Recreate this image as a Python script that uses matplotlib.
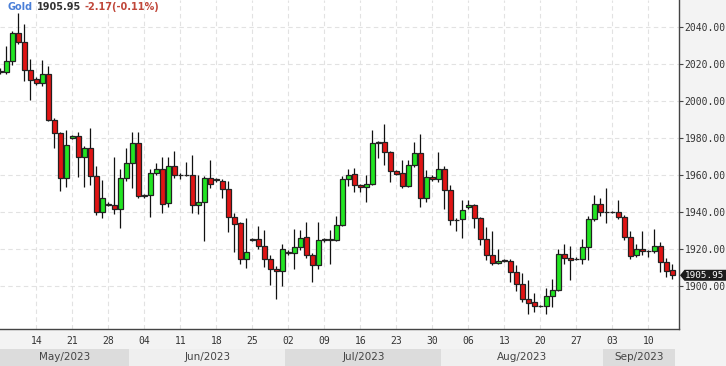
import matplotlib
matplotlib.use("Agg")
import matplotlib.pyplot as plt
import matplotlib.transforms as mtransforms
from matplotlib.patches import Rectangle, Polygon
import numpy as np
import pandas as pd

# ---- data (daily bars, Sun-Fri sessions) ----
start_date = "2023-05-07"
end_date = "2023-09-14"
opens = [2016, 2016, 2022, 2037, 2032, 2017, 2012, 2010, 2015, 1990,
         1982.7, 1958.4, 1980, 1981, 1969.7, 1975, 1959.8, 1940.3, 1944.5, 1943.9,
         1941.6, 1958.4, 1966.5, 1977.3, 1949, 1949.4, 1961.1, 1963.2, 1944.9, 1965.2,
         1960.2, 1960.2, 1960.2, 1944, 1945.4, 1958.4, 1957.5, 1957.1, 1952.4, 1937.3,
         1934, 1914.6, 1925.4, 1925.4, 1922, 1915, 1909.6, 1908.3, 1918.7, 1917.8,
         1921.5, 1926.5, 1916.8, 1911.4, 1925, 1925, 1925, 1933, 1957.8, 1960.5,
         1955, 1953.5, 1955.1, 1977.3, 1977.8, 1972.4, 1962.5, 1961.4, 1954.4, 1965.6,
         1971.9, 1947.6, 1959.3, 1958, 1963.6, 1951.9, 1936, 1936.2, 1942.6, 1943.8,
         1936.8, 1925.4, 1916.8, 1912.5, 1913.7, 1913.7, 1907.6, 1901.2, 1893.2, 1891.4,
         1889.4, 1889.6, 1894.6, 1898.2, 1917.7, 1915.5, 1914.5, 1914.6, 1921.5, 1936.3,
         1944.5, 1940, 1940.3, 1940.3, 1937.3, 1926.5, 1916.9, 1920, 1919, 1918.9,
         1921.8, 1913, 1909]
highs = [2018, 2030, 2038, 2048, 2042, 2023, 2013, 2022.3, 2019, 1991,
         1983.5, 1984.5, 1982, 1983.5, 1976, 1985.7, 1965.2, 1957.5, 1945.5, 1970,
         1963.4, 1974.9, 1983.2, 1983.6, 1950, 1963.6, 1966.5, 1970, 1970, 1973.1,
         1961, 1967, 1971, 1960, 1959.5, 1968.3, 1958.5, 1958, 1956.9, 1939.5,
         1935, 1936.8, 1926, 1932.6, 1930.4, 1917, 1911, 1922.7, 1919.5, 1930.8,
         1930.4, 1934.8, 1918, 1934.8, 1926, 1930.4, 1938, 1959.6, 1963.6, 1964,
         1955.5, 1960.2, 1984.5, 1978.5, 1987.6, 1973, 1963, 1968.3, 1968.3, 1978.1,
         1982.1, 1963, 1960, 1972.4, 1965, 1954.6, 1937, 1946.5, 1946.5, 1944.5,
         1937.5, 1932.2, 1930, 1920.4, 1914.5, 1915, 1911.3, 1907, 1903.4, 1896.4,
         1890, 1898.8, 1904.2, 1920, 1923, 1922, 1916, 1925.8, 1937.8, 1949.4,
         1947.6, 1953, 1940.5, 1946.5, 1938.5, 1930, 1923, 1930, 1919.8, 1930.8,
         1924, 1915.5, 1912.3]
lows = [2015, 2014.7, 2019.6, 2031, 2011, 2000.7, 2009, 2008.5, 1989.5, 1975,
        1951.7, 1953.8, 1979.5, 1959.3, 1953.8, 1955, 1938.5, 1936.8, 1943.5, 1939,
        1931.7, 1957, 1953.3, 1947.9, 1948, 1937.6, 1960, 1939.8, 1943, 1958.5,
        1958, 1959.5, 1939.8, 1939.3, 1924.4, 1953.3, 1956.5, 1947.6, 1929.5, 1918.7,
        1912, 1910, 1924.5, 1920, 1910.5, 1900.5, 1893, 1900, 1917, 1909.6,
        1919.5, 1915.5, 1902.3, 1909.6, 1924, 1912.3, 1924.5, 1932.5, 1954, 1951.1,
        1951, 1945.7, 1954.5, 1969.5, 1965.6, 1956.5, 1960, 1953, 1953.5, 1964.5,
        1943.1, 1945.7, 1957, 1956.5, 1941.6, 1933, 1930, 1926, 1942, 1931.4,
        1922.2, 1914, 1911.3, 1912, 1913, 1902.3, 1897.6, 1891.7, 1885, 1886.2,
        1889, 1884.8, 1888.8, 1897.5, 1912, 1903.6, 1914, 1912.3, 1914, 1935.5,
        1937.8, 1934.4, 1939.5, 1936.5, 1925, 1915, 1916, 1917, 1916, 1918,
        1907.7, 1905.2, 1904.1]
closes = [2016.5, 2022, 2037, 2032, 2017, 2011.5, 2010, 2014.8, 1990, 1982.7,
          1958.4, 1976.4, 1981.2, 1969.7, 1974.9, 1959.8, 1940.3, 1947.6, 1944, 1941.6,
          1958.4, 1966.5, 1977.3, 1948.8, 1949.5, 1961.1, 1963.2, 1944.3, 1965.2, 1960.2,
          1960, 1960.0, 1944, 1945.4, 1958.4, 1955.1, 1957.8, 1952.4, 1937.3, 1933.5,
          1914.6, 1918.7, 1925.2, 1921.8, 1915, 1909.6, 1908.3, 1920, 1917.8, 1921.5,
          1926, 1916.8, 1911.4, 1925, 1925.4, 1925.5, 1933, 1957.8, 1960.2, 1954.7,
          1953.5, 1955.1, 1977.3, 1978, 1972.4, 1962.5, 1960.7, 1954.4, 1965.6, 1971.9,
          1947.6, 1958.9, 1958, 1963.6, 1951.9, 1936, 1935.8, 1941.4, 1943.8, 1936.8,
          1925.4, 1916.8, 1912.5, 1913.7, 1914, 1907.6, 1901.2, 1893.2, 1890.8, 1889.4,
          1889.6, 1894.6, 1898.2, 1917.7, 1915.5, 1914, 1915, 1921.5, 1936.3, 1944.5,
          1940, 1940.3, 1940, 1937.3, 1926.5, 1916.6, 1920, 1918.9, 1919.3, 1921.8,
          1913, 1908.12, 1905.95]
yticks = [1900, 1920, 1940, 1960, 1980, 2000, 2020, 2040]
symbol = "Gold"
change = -2.17
change_pct = -0.11

dates = pd.bdate_range(start_date, end_date, freq="C", weekmask="Sun Mon Tue Wed Thu Fri")
n = len(dates)
x = np.arange(n)
o = np.array(opens); h = np.array(highs); l = np.array(lows); c = np.array(closes)

W, H = 726, 366
fig = plt.figure(figsize=(W / 100, H / 100), dpi=100)
fig.patch.set_facecolor("#f3f3f3")
ax_left, ax_right, ax_bottom, ax_top = 0, 679, 329, 0
ax = fig.add_axes([ax_left / W, (H - ax_bottom) / H, (ax_right - ax_left) / W, (ax_bottom - ax_top) / H])
ax.set_facecolor("white")

green = "#22e522"
red = "#e01414"
edge = "#222222"
bw = 0.86
for xi, oi, hi, li, ci in zip(x, o, h, l, c):
    ax.vlines(xi, li, hi, color="#111111", linewidth=0.9, zorder=2)
    col = green if ci >= oi else red
    bottom = min(oi, ci)
    height = max(abs(ci - oi), 0.05)
    ax.add_patch(Rectangle((xi - bw / 2, bottom), bw, height, facecolor=col,
                           edgecolor=edge, linewidth=0.9, zorder=3))

# axis ranges
XMIN, XMAX = -0.05, 113.1
ax.set_xlim(XMIN, XMAX)
ax.set_ylim(1876.9, 2054.8)

# x ticks on Sundays
sun_idx = [i for i, d in enumerate(dates) if d.dayofweek == 6 and i > 0]
ax.set_xticks(sun_idx)
ax.set_xticklabels([dates[i].strftime("%d") for i in sun_idx],
                   family="DejaVu Sans Mono", fontsize=7, color="#333333")
ax.tick_params(axis="x", length=0, pad=5)

ax.yaxis.tick_right()
ax.set_yticks(yticks)
ax.set_yticklabels([f"{v:.2f}" for v in yticks], family="DejaVu Sans Mono",
                   fontsize=7, color="#333333")
ax.tick_params(axis="y", length=3, width=0.8, color="#444444", pad=1)

ax.grid(True, color="#e2e2e2", linestyle=(0, (4, 3)), linewidth=0.8, zorder=0)
ax.set_axisbelow(True)
for s in ["top", "left"]:
    ax.spines[s].set_visible(False)
ax.spines["right"].set_color("#444444")
ax.spines["bottom"].set_color("#444444")
ax.spines["right"].set_linewidth(1)
ax.spines["bottom"].set_linewidth(1)

# month bands
tr = mtransforms.blended_transform_factory(ax.transData, fig.transFigure)
months = dates.to_period("M")
bounds = [0] + [i for i in range(1, n) if months[i] != months[i - 1]] + [n]
band_top = 17 / H
for k in range(len(bounds) - 1):
    x0 = max(bounds[k] - 0.5, XMIN)
    x1 = min(bounds[k + 1] - 0.5, XMAX)
    fc = "#dcdcdc" if k % 2 == 0 else "#efefef"
    fig.patches.append(Rectangle((x0, 0), x1 - x0, band_top,
                                 transform=tr, facecolor=fc, edgecolor="none", zorder=0))
    label = dates[bounds[k]].strftime("%b/%Y")
    fig.text((x0 + x1) / 2, band_top / 2, label, transform=tr, ha="center", va="center",
             family="DejaVu Sans", fontsize=7.5, color="#444444")

# last price tag
last = c[-1]
hh = 5.5 / H
poly = Polygon([(680 / W, 0), (684 / W, 0), (726 / W, 0)], closed=True,
               facecolor="#1c1c1c", edgecolor="none", zorder=5)
fig.patches.append(poly)
fig.canvas.draw()
py = fig.transFigure.inverted().transform(ax.transData.transform((0, last)))[1]
poly.set_transform(fig.transFigure)
poly.set_xy([(680 / W, py), (684.5 / W, py + hh), (726 / W, py + hh),
             (726 / W, py - hh), (684.5 / W, py - hh)])
fig.text(684.5 / W, py, f"{last:.2f}", ha="left", va="center", family="DejaVu Sans Mono",
         fontsize=6.7, color="white", zorder=10)

# title
r = fig.canvas.get_renderer()
tx = 8
ty = H - 7
parts = [(symbol, "#4a7fd8"), (f"{c[-1]:.2f}", "#333333"),
         (f"{change:.2f}({change_pct:.2f}%)", "#c0473a")]
for txt, col in parts:
    t = fig.text(tx / W, ty / H, txt, ha="left", va="center", fontsize=7,
                 fontweight="bold", color=col, family="DejaVu Sans")
    bb = t.get_window_extent(renderer=r)
    tx += bb.width + 3.5

fig.savefig("out.png", dpi=100, facecolor=fig.get_facecolor())
